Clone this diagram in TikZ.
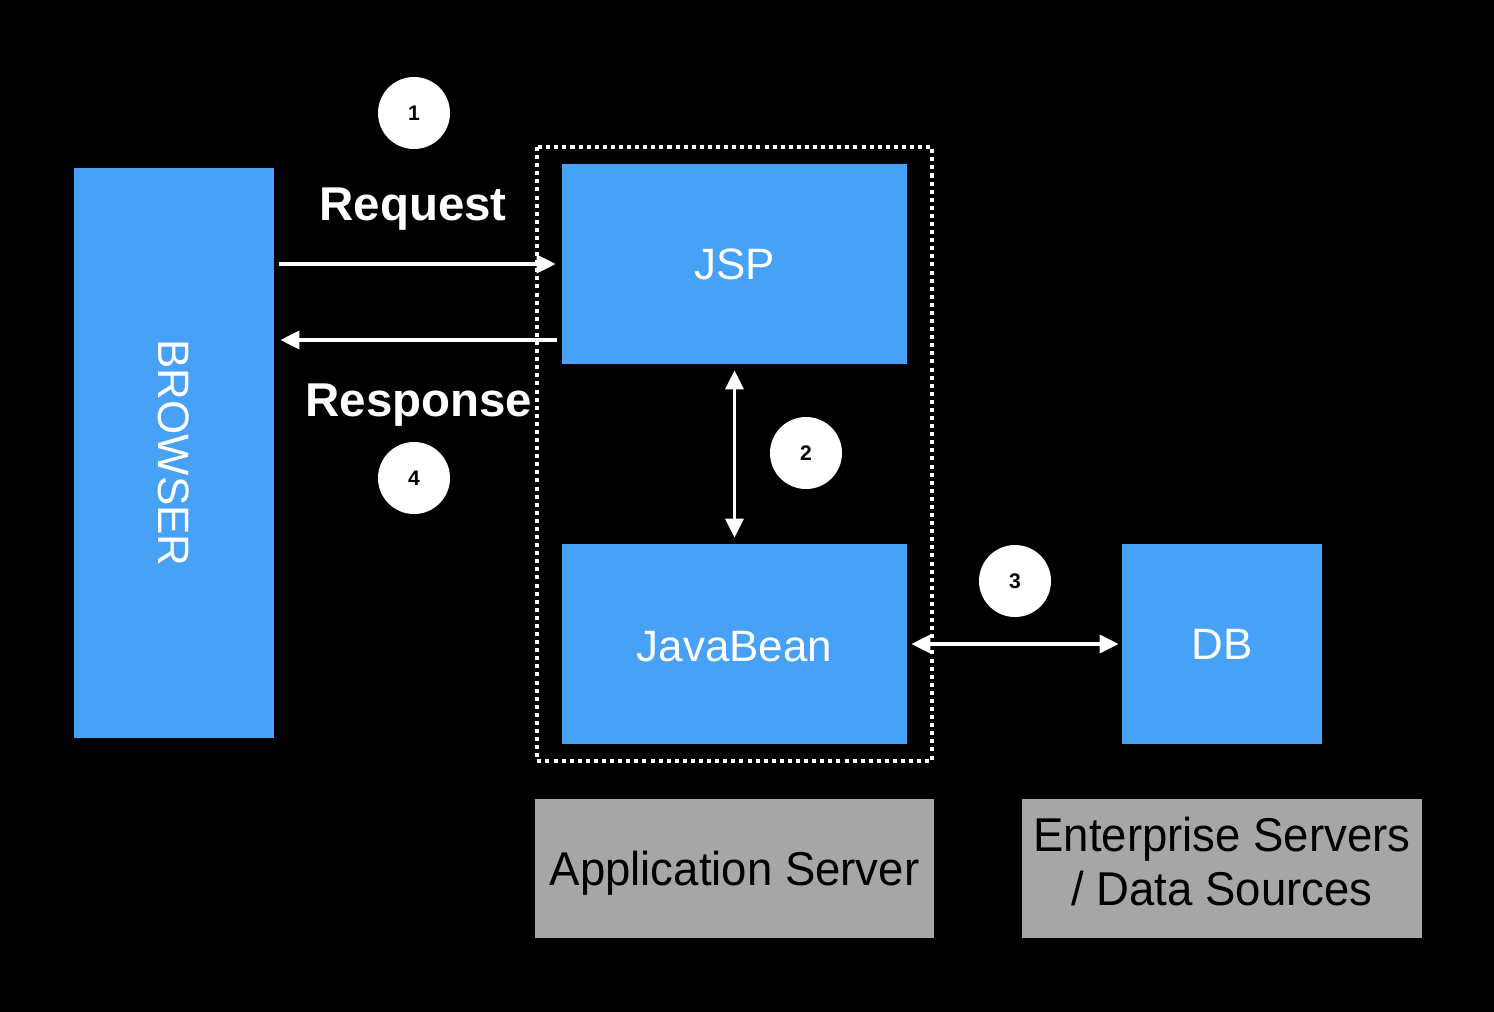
\documentclass[tikz,border=0pt]{standalone}
\usepackage{fontspec}
\setmainfont{Liberation Sans}
\newfontfamily\narrowfont[FakeStretch=0.96]{Liberation Sans}
\usetikzlibrary{arrows.meta}
\definecolor{boxblue}{HTML}{47A1F7}
\definecolor{tagGray}{HTML}{A6A6A6}

\begin{document}
\begin{tikzpicture}[
        box/.style={fill=boxblue, text=white, minimum width=4cm, minimum height=4cm, inner sep=0pt, font=\fontsize{25}{30}\selectfont},
        tag/.style={fill=tagGray, text=black, minimum width=8cm, minimum height=2.78cm, inner sep=0pt, align=center, font=\narrowfont\fontsize{27}{31}\selectfont},
        num/.style={circle, fill=white, text=black, minimum size=1.44cm, inner sep=0pt, font=\bfseries\fontsize{12}{14}\selectfont},
        flow/.style={white, line width=2pt},
        >={Triangle[length=0.38cm, width=0.36cm]}
    ]
        \fill[black] (0,0) rectangle (29.88,-20.24);

        \node[box, minimum height=11.4cm] at (3.48,-9.06) (browser) {};
        \node[text=white, rotate=-90, font=\fontsize{25}{30}\selectfont] at (browser) (browsertxt) {BROWSER};
        \node[box, minimum width=6.9cm] at (14.69,-5.28) (jsp) {JSP};
        \node[box, minimum width=6.9cm, text height=20pt] at (14.69,-12.88) (bean) {JavaBean};
        \node[box] at (24.44,-12.88) (db) {DB};

        \draw[white, line width=2.2pt, dash pattern=on 2.3pt off 2.3pt] (10.74,-2.94) rectangle (18.64,-15.22);

        \node[tag, minimum width=7.98cm, text height=25.4pt, text depth=5.7pt] at (14.69,-17.37) (appsrv) {Application Server};
        \node[tag, text depth=8pt] at (24.44,-17.37) (entsrv) {Enterprise Servers\\/ Data Sources};

        \node[num] at (8.28,-2.26) (n1) {1};
        \node[num] at (16.12,-9.06) (n2) {2};
        \node[num] at (20.3,-11.62) (n3) {3};
        \node[num] at (8.28,-9.56) (n4) {4};

        \node[text=white, font=\bfseries\fontsize{27}{32}\selectfont] at (8.26,-4.18) (req) {Request};
        \node[text=white, font=\bfseries\fontsize{27}{32}\selectfont] at (8.38,-8.1) (resp) {Response};

        \coordinate (jspout) at ([xshift=-0.1cm, yshift=-1.52cm]jsp.west);
        \draw[flow, ->, shorten <=0.1cm, shorten >=0.12cm] (browser.east |- jsp.west) -- (jsp.west);
        \draw[flow, ->, shorten >=0.12cm] (jspout) -- (browser.east |- jspout);
        \draw[flow, <->, shorten <=0.12cm, shorten >=0.12cm] (jsp.south) -- (bean.north);
        \draw[flow, <->, shorten <=0.08cm, shorten >=0.06cm] (bean.east) -- (db.west);
    \end{tikzpicture}
\end{document}
